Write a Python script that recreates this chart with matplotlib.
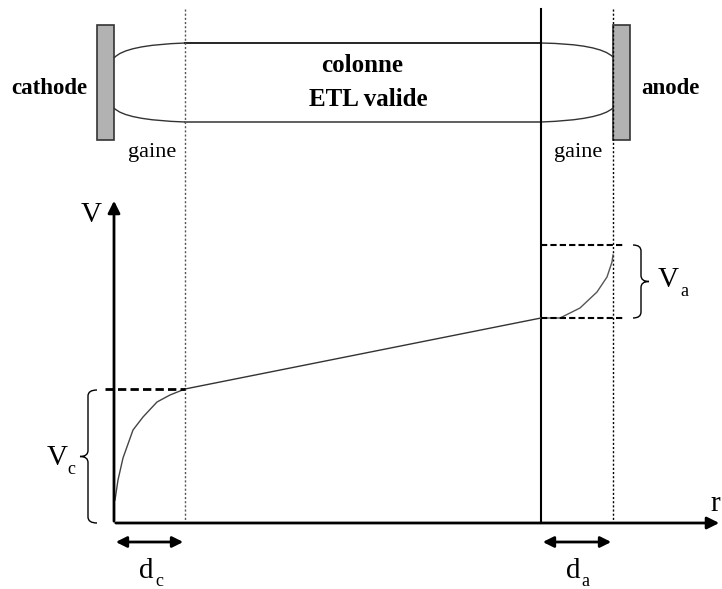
import matplotlib
import matplotlib.pyplot as plt
from matplotlib.patches import Rectangle, PathPatch
from matplotlib.path import Path

matplotlib.use('Agg')
plt.rcParams['font.family'] = ['Liberation Serif', 'DejaVu Serif']

# positions des elements (pixels de l'image de reference)
x_axe = 114          # axe V
y_axe = 523          # axe r
x_gaine_c = 185      # fin de la gaine cathodique
x_gaine_a = 541      # debut de la gaine anodique
x_anode = 613

# profil de potentiel
r_cathode = [115, 118, 123, 133, 143, 157, 170, 185]
v_cathode = [500, 480, 458, 430, 417, 402, 395, 389]
r_colonne = [185, 541]
v_colonne = [389, 318]
r_anode = [541, 560, 580, 597, 607, 612, 613]
v_anode = [318, 318, 308, 292, 277, 262, 255]
v_anode_max = 245

fig = plt.figure(figsize=(7.22, 5.89), dpi=100)
ax = fig.add_axes([0, 0, 1, 1])
ax.set_xlim(0, 722)
ax.set_ylim(589, 0)
ax.axis('off')

# electrodes
for x0 in (97, x_anode):
    ax.add_patch(Rectangle((x0, 25), 17, 115, facecolor='#b2b2b2', edgecolor='#333333', lw=1.2))

ax.text(49, 88, 'cathode', fontsize=16.5, fontweight='bold', ha='center', va='center')
ax.text(670, 89, 'anode', fontsize=16.5, fontweight='bold', ha='center', va='center')
ax.text(362, 65, 'colonne', fontsize=18, fontweight='bold', ha='center', va='center')
ax.text(368, 100, 'ETL valide', fontsize=18, fontweight='bold', ha='center', va='center')
ax.text(152, 152, 'gaine', fontsize=16, ha='center', va='center')
ax.text(578, 152, 'gaine', fontsize=16, ha='center', va='center')

# colonne (tube)
ax.plot([x_gaine_c, x_gaine_a], [43, 43], color='black', lw=1.2)
ax.plot([x_gaine_c, x_gaine_a], [122, 122], color='#444444', lw=1.2)
tube = [
    [(114, 58), (125, 45), (185, 43)],
    [(114, 108), (125, 120), (185, 122)],
    [(541, 43), (600, 44), (613, 57)],
    [(541, 122), (600, 120), (613, 108)],
]
for p in tube:
    path = Path(p, [Path.MOVETO, Path.CURVE3, Path.CURVE3])
    ax.add_patch(PathPatch(path, fill=False, edgecolor='#333333', lw=1.0))

# lignes verticales des gaines
ax.plot([x_gaine_c, x_gaine_c], [9, y_axe], color='#555555', lw=1.0, ls=(0, (1.5, 1.5)))
ax.plot([x_gaine_a, x_gaine_a], [9, y_axe], color='black', lw=1.5)
ax.plot([x_anode, x_anode], [9, y_axe], color='black', lw=1.0, ls=(0, (1.5, 1.5)))

# axes
ax.annotate('', xy=(x_axe, 198), xytext=(x_axe, y_axe + 1),
            arrowprops=dict(arrowstyle='-|>', color='black', lw=2, mutation_scale=18))
ax.annotate('', xy=(722, y_axe), xytext=(x_axe - 1, y_axe),
            arrowprops=dict(arrowstyle='-|>', color='black', lw=2, mutation_scale=18))
ax.text(91, 215, 'V', fontsize=21, ha='center', va='center')
ax.text(715, 504, 'r', fontsize=21, ha='center', va='center')

# potentiel
ax.plot(r_cathode, v_cathode, color='#444444', lw=1.0)
ax.plot(r_colonne, v_colonne, color='#333333', lw=1.0)
ax.plot(r_anode, v_anode, color='#555555', lw=1.0)

# pointilles des chutes de potentiel
ax.plot([105, x_gaine_c], [v_colonne[0], v_colonne[0]], color='black', lw=2, ls=(0, (3, 1.5)))
ax.plot([x_gaine_a, 624], [v_anode_max, v_anode_max], color='black', lw=1.5, ls=(0, (3, 1.5)))
ax.plot([x_gaine_a, 624], [v_colonne[1], v_colonne[1]], color='black', lw=1.5, ls=(0, (3, 1.5)))


def accolade(x_bout, x_dos, x_pointe, y0, y1):
    ym = (y0 + y1) / 2
    s = 6 if y1 > y0 else -6
    verts = [(x_bout, y0), (x_dos, y0), (x_dos, y0 + s),
             (x_dos, ym - s), (x_dos, ym), (x_pointe, ym),
             (x_dos, ym), (x_dos, ym + s),
             (x_dos, y1 - s), (x_dos, y1), (x_bout, y1)]
    codes = [Path.MOVETO, Path.CURVE3, Path.CURVE3,
             Path.LINETO, Path.CURVE3, Path.CURVE3,
             Path.CURVE3, Path.CURVE3,
             Path.LINETO, Path.CURVE3, Path.CURVE3]
    ax.add_patch(PathPatch(Path(verts, codes), fill=False, edgecolor='black', lw=1.0))


accolade(97, 88, 80, v_colonne[0] + 1, y_axe)
accolade(633, 641, 649, v_anode_max, v_colonne[1])

ax.text(57, 458, 'V', fontsize=21, ha='center', va='center')
ax.text(71, 470, 'c', fontsize=13, ha='center', va='center')
ax.text(668, 280, 'V', fontsize=21, ha='center', va='center')
ax.text(684, 292, 'a', fontsize=13, ha='center', va='center')

# epaisseurs des gaines
for xa, xb in ((x_axe, x_gaine_c), (x_gaine_a, x_anode)):
    ax.annotate('', xy=(xb + 1, 542), xytext=(xa - 1, 542),
                arrowprops=dict(arrowstyle='<|-|>', color='black', lw=2, mutation_scale=16))
ax.text(146, 571, 'd', fontsize=21, ha='center', va='center')
ax.text(159, 582, 'c', fontsize=13, ha='center', va='center')
ax.text(573, 571, 'd', fontsize=21, ha='center', va='center')
ax.text(585, 582, 'a', fontsize=13, ha='center', va='center')

fig.savefig('out.png', dpi=100)
